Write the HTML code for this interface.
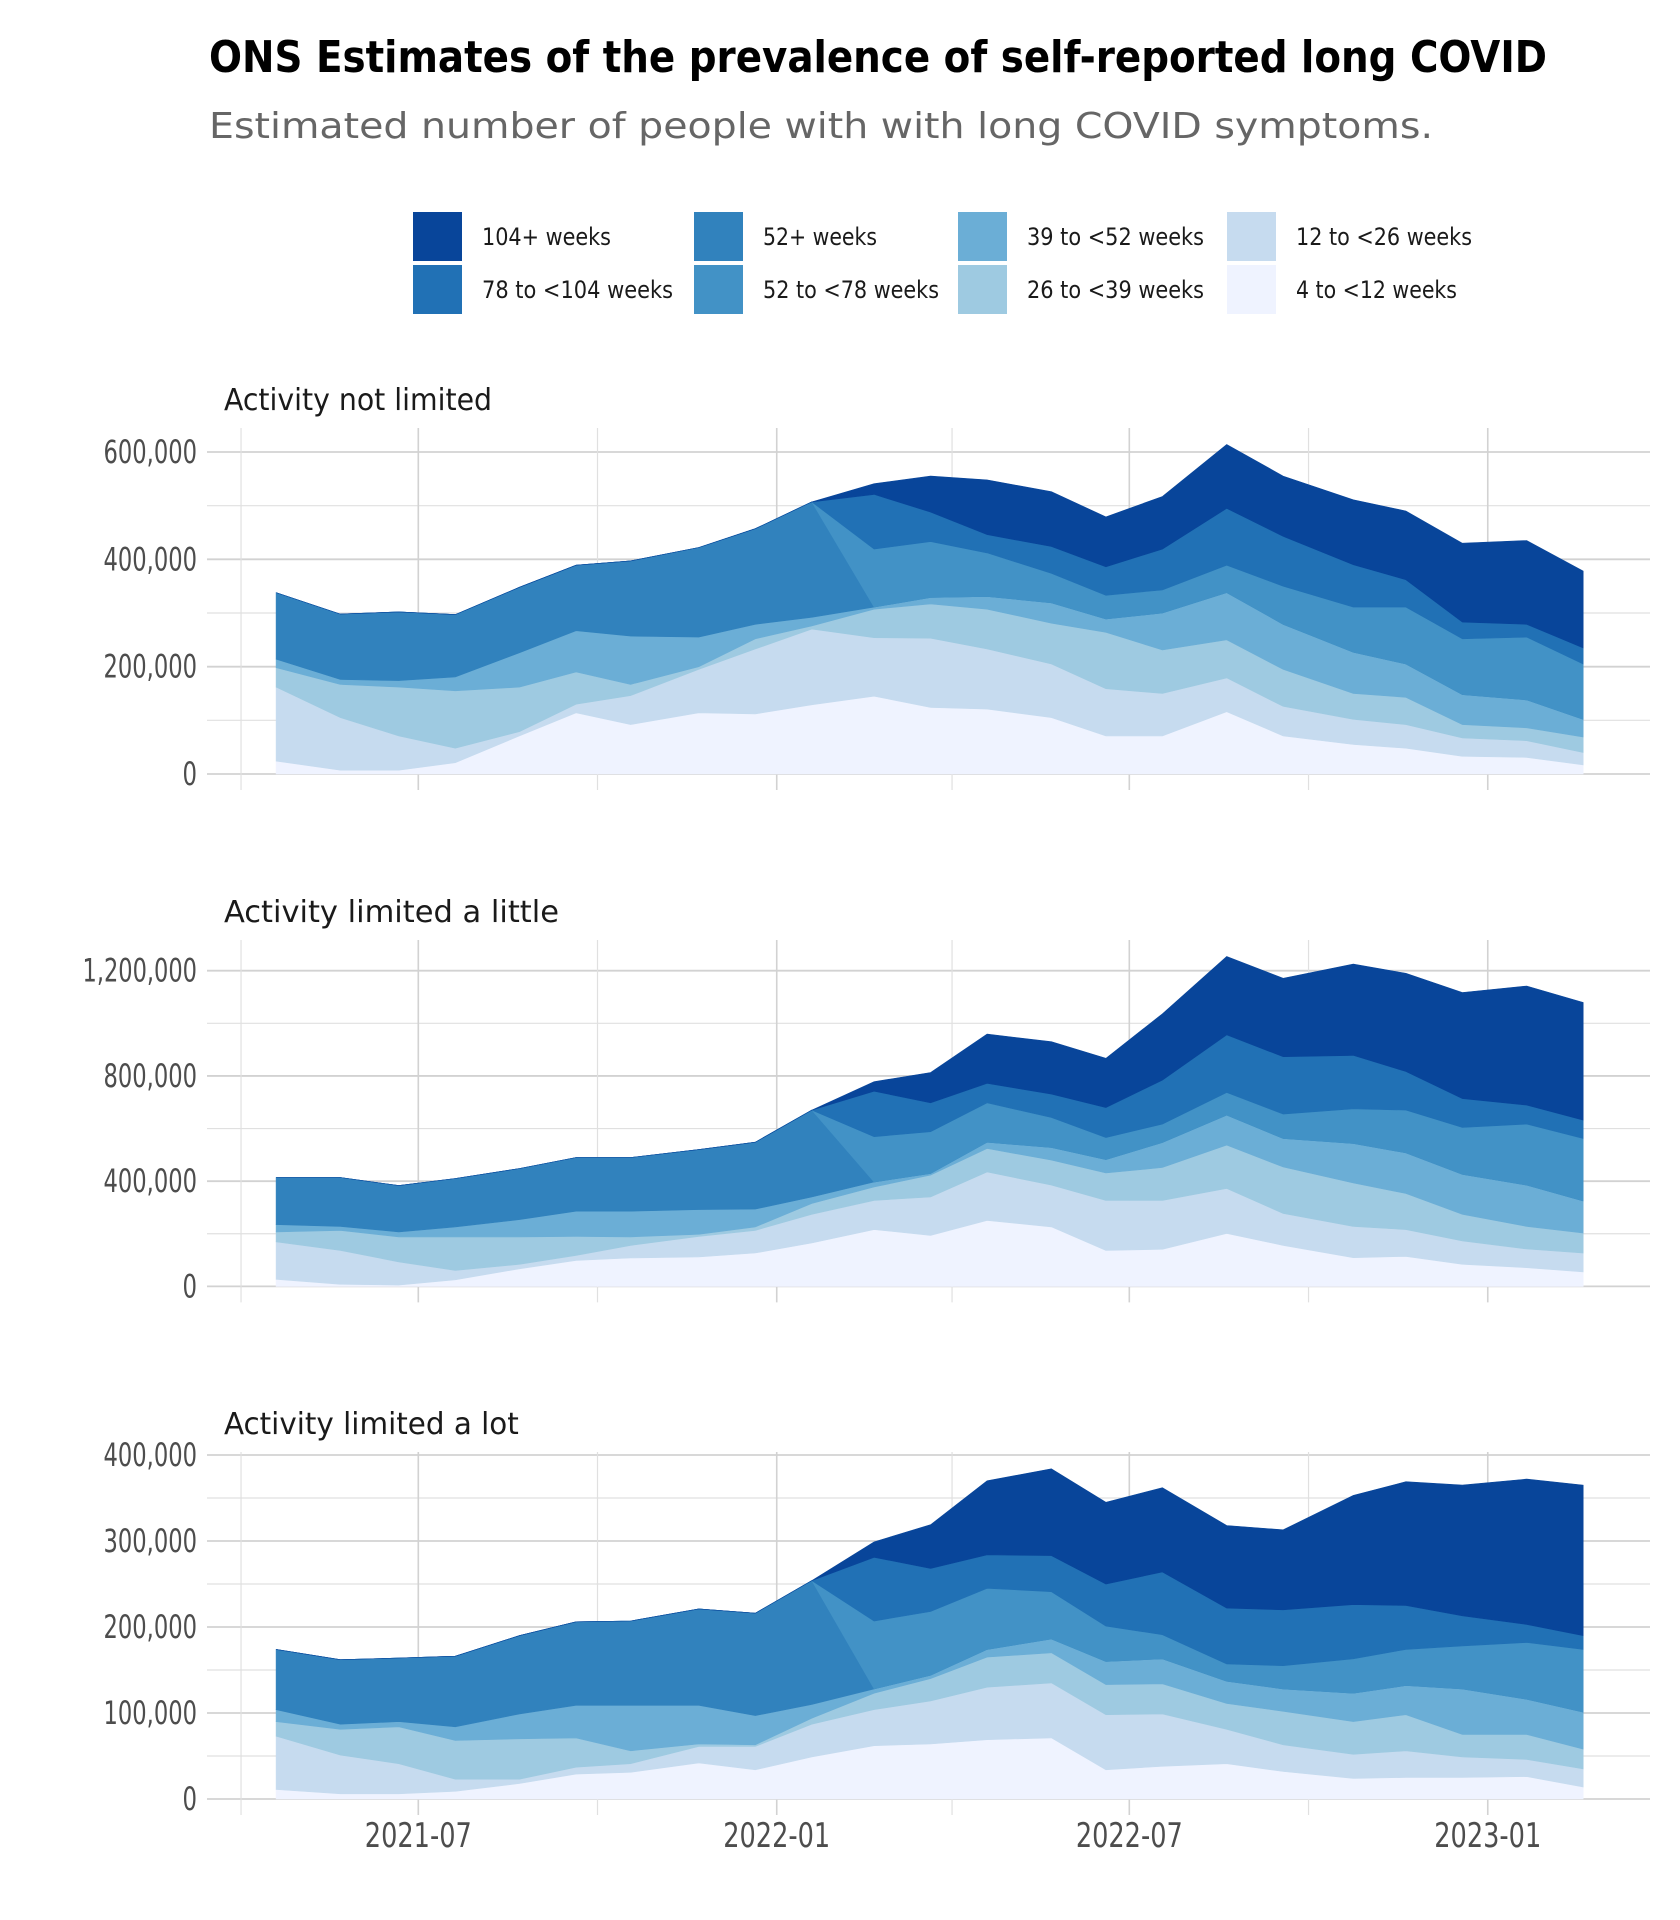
<!DOCTYPE html>
<html><head><meta charset="utf-8"><title>ONS long COVID prevalence</title>
<style>
html,body{margin:0;padding:0;background:#fff;}
svg{display:block;}
.cond{font-family:"Liberation Sans Narrow","DejaVu Sans Condensed","Liberation Sans",sans-serif;}
</style></head>
<body>
<svg id="chart" xmlns="http://www.w3.org/2000/svg" width="1680" height="1920" viewBox="0 0 1680 1920">
<rect x="0" y="0" width="1680" height="1920" fill="#fff"/>
<text class="cond" x="209" y="72" font-size="44" font-weight="bold" fill="#000" textLength="1338" lengthAdjust="spacingAndGlyphs">ONS Estimates of the prevalence of self-reported long COVID</text>
<text x="209" y="138" font-family="'DejaVu Sans','Liberation Sans',sans-serif" font-size="36" fill="#666" textLength="1224" lengthAdjust="spacingAndGlyphs">Estimated number of people with with long COVID symptoms.</text>
<g id="legend"></g>
<g id="panels"></g>
<g id="xaxis"></g>
</svg>
<script>
// ---- data (values in thousands of people) ----
const UNIT = 1000;
const dates = ["2021-04-19","2021-05-22","2021-06-21","2021-07-20","2021-08-22","2021-09-20","2021-10-18","2021-11-22","2021-12-21","2022-01-19","2022-02-20","2022-03-21","2022-04-19","2022-05-22","2022-06-19","2022-07-18","2022-08-20","2022-09-18","2022-10-24","2022-11-20","2022-12-19","2023-01-21","2023-02-19"];
const layerNames = ["4 to <12 weeks","12 to <26 weeks","26 to <39 weeks","39 to <52 weeks","52+ weeks","52 to <78 weeks","78 to <104 weeks","104+ weeks"];
const layerColors = ["#eff3ff","#c6dbef","#9ecae1","#6baed6","#3182bd","#4292c6","#2171b5","#08459a"];
const panelTitles = ["Activity not limited","Activity limited a little","Activity limited a lot"];

// Panel 1: Activity not limited
const notLimited_4to12   = [24,7,7,21,71,114,92,114,112,129,145,124,121,105,71,71,116,71,55,48,33,31,17];
const notLimited_12to26  = [138,98,64,27,8,16,54,81,121,141,109,129,112,100,88,79,63,55,47,44,34,31,23];
const notLimited_26to39  = [36,62,91,107,83,60,21,5,19,6,53,64,74,76,105,81,71,69,48,51,25,24,29];
const notLimited_39to52  = [16,9,12,26,64,77,90,55,27,16,4,12,24,38,25,69,88,84,77,62,56,52,33];
const notLimited_52plus  = [124,122,128,116,122,122,140,167,178,215,0,0,0,0,0,0,0,0,0,0,0,0,0];
const notLimited_52to78  = [0,0,0,0,0,0,0,0,0,0,108,104,81,55,44,43,51,71,84,106,104,117,103];
const notLimited_78to104 = [0,0,0,0,0,0,0,0,0,0,102,55,34,50,53,76,106,93,79,51,31,24,30];
const notLimited_104plus = [0,0,0,0,0,0,0,0,0,0,20,67,102,102,93,98,119,112,121,128,147,156,143];

// Panel 2: Activity limited a little
const little_4to12   = [27,8,5,25,67,99,108,112,127,165,216,194,251,226,137,141,201,156,109,114,84,71,55];
const little_12to26  = [142,129,88,36,17,19,48,78,86,109,111,146,184,159,190,186,171,121,119,102,89,71,72];
const little_26to39  = [38,76,95,127,104,72,32,8,13,41,51,83,89,95,104,125,165,177,165,137,101,86,76];
const little_39to52  = [28,15,19,38,66,96,98,94,68,25,19,6,24,48,51,95,114,108,150,155,152,157,122];
const little_52plus  = [179,186,176,184,194,204,204,228,254,330,0,0,0,0,0,0,0,0,0,0,0,0,0];
const little_52to78  = [0,0,0,0,0,0,0,0,0,0,172,159,150,114,84,70,86,93,132,162,178,232,237];
const little_78to104 = [0,0,0,0,0,0,0,0,0,0,173,110,74,89,114,167,219,218,203,147,110,72,70];
const little_104plus = [0,0,0,0,0,0,0,0,0,0,36,115,187,199,187,252,298,298,347,373,403,453,447];

// Panel 3: Activity limited a lot
const lot_4to12   = [11,6,6,9,18,29,31,42,34,49,62,64,69,71,34,38,41,32,24,25,25,26,14];
const lot_12to26  = [62,45,35,14,5,8,10,19,27,38,42,50,61,64,64,61,40,31,28,31,24,20,21];
const lot_26to39  = [17,30,43,45,47,34,15,3,2,7,19,26,35,35,35,35,30,39,38,42,26,29,23];
const lot_39to52  = [14,6,6,16,29,38,53,45,34,16,5,4,9,16,27,29,26,26,33,34,53,41,43];
const lot_52plus  = [70,75,74,82,91,97,98,112,119,144,0,0,0,0,0,0,0,0,0,0,0,0,0];
const lot_52to78  = [0,0,0,0,0,0,0,0,0,0,79,74,71,55,41,28,20,27,40,42,50,66,73];
const lot_78to104 = [0,0,0,0,0,0,0,0,0,0,74,50,39,42,49,73,65,65,63,51,35,21,16];
const lot_104plus = [0,0,0,0,0,0,0,0,0,0,18,51,86,101,95,98,96,93,127,144,152,169,175];

const yTicks1 = [0,200,400,600];
const yTicks2 = [0,400,800,1200];
const yTicks3 = [0,100,200,300,400];
const xTickLabels = ["2021-07","2022-01","2022-07","2023-01"];
const xMinorDates = ["2021-04-01","2021-10-01","2022-04-01","2022-10-01"];

// ---- layout ----
const NS = "http://www.w3.org/2000/svg";
const X0 = 207, X1 = 1650;
const refDate = Date.parse("2021-07-01"), refX = 418.3, pxPerDay = 1.948;
function xScale(d){ return refX + (Date.parse(d) - refDate)/86400000*pxPerDay; }
function mk(tag, attrs, parent){ const e=document.createElementNS(NS,tag); for(const k in attrs) e.setAttribute(k,attrs[k]); parent.appendChild(e); return e; }
function fmt(v){ return (v*UNIT).toLocaleString("en-US"); }

const panels = [
  {title:panelTitles[0], layers:[notLimited_4to12,notLimited_12to26,notLimited_26to39,notLimited_39to52,notLimited_52plus,notLimited_52to78,notLimited_78to104,notLimited_104plus], ticks:yTicks1, zeroY:774, topVal:600, topY:452, gridTop:428, titleY:410},
  {title:panelTitles[1], layers:[little_4to12,little_12to26,little_26to39,little_39to52,little_52plus,little_52to78,little_78to104,little_104plus], ticks:yTicks2, zeroY:1286.4, topVal:1200, topY:970.7, gridTop:940, titleY:922},
  {title:panelTitles[2], layers:[lot_4to12,lot_12to26,lot_26to39,lot_39to52,lot_52plus,lot_52to78,lot_78to104,lot_104plus], ticks:yTicks3, zeroY:1799, topVal:400, topY:1455, gridTop:1452, titleY:1434}
];

const panelsG = document.getElementById("panels");
const majorDates = xTickLabels.map(l => l + "-01");

panels.forEach((p, pi) => {
  const g = mk("g", {}, panelsG);
  
  
  const yS = v => p.zeroY - v*(p.zeroY - p.topY)/p.topVal;
  for (let i=0;i<p.ticks.length-1;i++){
    const v = (p.ticks[i]+p.ticks[i+1])/2;
    const l = mk("line",{x1:X0,x2:X1,y1:yS(v),y2:yS(v),stroke:"#e0e0e0","stroke-width":1.2},g);
    
    
  }
  p.ticks.forEach(v => {
    const l = mk("line",{x1:X0,x2:X1,y1:yS(v),y2:yS(v),stroke:"#d2d2d2","stroke-width":1.8},g);
    
    
  });
  xMinorDates.forEach(d => {
    const l = mk("line",{x1:xScale(d),x2:xScale(d),y1:p.gridTop,y2:p.zeroY+16,stroke:"#e0e0e0","stroke-width":1.2},g);
    
    
  });
  majorDates.forEach(d => {
    const l = mk("line",{x1:xScale(d),x2:xScale(d),y1:p.gridTop,y2:p.zeroY+16,stroke:"#d2d2d2","stroke-width":1.6},g);
    
    
  });
  const n = dates.length;
  let base = new Array(n).fill(0);
  p.layers.forEach((vals, li) => {
    const top = base.map((b,i)=>b+vals[i]);
    let pts = [];
    for (let i=0;i<n;i++) pts.push(xScale(dates[i]).toFixed(1)+","+yS(top[i]).toFixed(1));
    for (let i=n-1;i>=0;i--) pts.push(xScale(dates[i]).toFixed(1)+","+yS(base[i]).toFixed(1));
    const poly = mk("polygon",{points:pts.join(" "),fill:layerColors[li],stroke:layerColors[li],"stroke-width":0.6},g);
    
    
    base = top;
  });
  p.ticks.forEach(v => {
    const s = fmt(v);
    const digits = s.replace(/,/g,"").length, commas = s.length - digits;
    const t = mk("text",{x:197,y:yS(v)+11,"text-anchor":"end","font-size":32,fill:"#4d4d4d","class":"cond",textLength:(digits*14.5+commas*6.5).toFixed(1),lengthAdjust:"spacingAndGlyphs"},g);
    t.textContent = s;
    
    
  });
  const tt = mk("text",{x:224,y:p.titleY,"font-size":30,fill:"#1a1a1a","class":"cond",textLength:(p.title.length*13.4).toFixed(1),lengthAdjust:"spacingAndGlyphs"},g);
  tt.textContent = p.title;
  
  
});

const xg = document.getElementById("xaxis");
xTickLabels.forEach((lab,i) => {
  const t = mk("text",{x:xScale(majorDates[i]),y:1847,"text-anchor":"middle","font-size":34,fill:"#4d4d4d","class":"cond",textLength:107,lengthAdjust:"spacingAndGlyphs"},xg);
  t.textContent = lab;
  
  
});

const lg = document.getElementById("legend");
const legendOrder = [7,6,4,5,3,2,1,0];
const legendTextLen = {"104+ weeks":129,"78 to <104 weeks":191,"52+ weeks":114,"52 to <78 weeks":176,"39 to <52 weeks":177,"26 to <39 weeks":177,"12 to <26 weeks":176,"4 to <12 weeks":161};
const colX = [413,694,958,1227];
legendOrder.forEach((li,k) => {
  const col = Math.floor(k/2), row = k%2;
  const kx = colX[col], ky = row===0 ? 212 : 265;
  const ent = mk("g",{},lg);
  
  
  const r = mk("rect",{x:kx,y:ky,width:49,height:49,fill:layerColors[li]},ent);
  
  
  const t = mk("text",{x:kx+69,y:ky+33,"font-size":24,fill:"#1a1a1a","class":"cond",textLength:legendTextLen[layerNames[li]],lengthAdjust:"spacingAndGlyphs"},ent);
  t.textContent = layerNames[li];
  
  
});
</script>
</body></html>
